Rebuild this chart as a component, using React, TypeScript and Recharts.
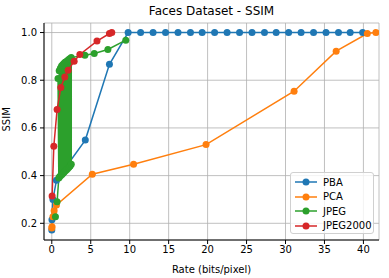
import { LineChart, Line, XAxis, YAxis, CartesianGrid } from "recharts";

const xTicks = [0, 5, 10, 15, 20, 25, 30, 35, 40];
const yTicks = [0.2, 0.4, 0.6, 0.8, 1.0];

// PBA
const pbaRate = [0.0, 0.02, 0.15, 0.6, 4.3, 7.4, 9.8, 11.4, 13.0, 14.6, 16.2, 17.8, 19.3, 20.9, 22.5, 24.1, 25.7, 27.3, 28.8, 30.4, 32.0, 33.6, 35.2, 36.8, 38.3, 39.9];
const pbaSsim = [0.172, 0.215, 0.3, 0.381, 0.549, 0.867, 1.0, 1.0, 1.0, 1.0, 1.0, 1.0, 1.0, 1.0, 1.0, 1.0, 1.0, 1.0, 1.0, 1.0, 1.0, 1.0, 1.0, 1.0, 1.0, 1.0];

// PCA
const pcaRate = [0.0, 0.03, 0.15, 0.3, 0.6, 5.2, 10.5, 19.8, 31.1, 36.5, 40.5, 41.6];
const pcaSsim = [0.18, 0.186, 0.228, 0.253, 0.277, 0.406, 0.448, 0.53, 0.754, 0.922, 0.996, 1.0];

// JPEG (unsorted sweep, zigzags)
const jpegRate = [0.47, 0.68, 0.9, 0.8, 1.0, 0.95, 1.15, 1.1, 1.3, 1.25, 1.45, 1.4, 1.6, 1.55, 1.75, 1.7, 1.9, 1.85, 2.05, 2.0, 2.2, 2.15, 2.35, 2.3, 2.5, 2.5, 4.25, 5.45, 7.2, 9.5];
const jpegSsim = [0.228, 0.29, 0.39, 0.807, 0.395, 0.84, 0.4, 0.85, 0.405, 0.86, 0.41, 0.865, 0.415, 0.87, 0.42, 0.875, 0.425, 0.878, 0.43, 0.882, 0.435, 0.886, 0.44, 0.89, 0.448, 0.895, 0.905, 0.912, 0.929, 0.968];

// JPEG2000
const j2kRate = [0.04, 0.26, 0.68, 1.16, 1.67, 2.1, 2.87, 3.6, 5.8, 7.4, 7.7];
const j2kSsim = [0.314, 0.523, 0.677, 0.77, 0.814, 0.842, 0.88, 0.908, 0.964, 0.996, 1.0];

const zip = (xs: number[], ys: number[]) => xs.map((x, i) => ({ x, y: ys[i] }));

const series = [
  { name: "PBA", color: "#1f77b4", data: zip(pbaRate, pbaSsim) },
  { name: "PCA", color: "#ff7f0e", data: zip(pcaRate, pcaSsim) },
  { name: "JPEG", color: "#2ca02c", data: zip(jpegRate, jpegSsim) },
  { name: "JPEG2000", color: "#d62728", data: zip(j2kRate, j2kSsim) },
];

const font = "DejaVu Sans, sans-serif";

function LegendBox() {
  return (
    <div
      style={{
        position: "absolute",
        left: 290,
        top: 172,
        width: 84,
        height: 62,
        boxSizing: "border-box",
        border: "1px solid #d0d0d0",
        borderRadius: 3,
        background: "rgba(255,255,255,0.8)",
        padding: "2px 0 0 3px",
        fontFamily: font,
        fontSize: 10,
        color: "#000",
      }}
    >
      {series.map((s) => (
        <div key={s.name} style={{ display: "flex", alignItems: "center", height: 14.5 }}>
          <svg width={24} height={10} style={{ marginRight: 5 }}>
            <line x1={1} y1={5} x2={23} y2={5} stroke={s.color} strokeWidth={1.5} />
            <circle cx={12} cy={5} r={3.5} fill={s.color} />
          </svg>
          <span>{s.name}</span>
        </div>
      ))}
    </div>
  );
}

export default function App() {
  return (
    <div style={{ position: "absolute", left: 0, top: 0, width: 389, height: 278, background: "#fff" }}>
      <div
        style={{
          position: "absolute",
          left: 44,
          width: 335,
          top: 4,
          textAlign: "center",
          fontFamily: font,
          fontSize: 12,
        }}
      >
        Faces Dataset - SSIM
      </div>
      <LineChart width={389} height={278} margin={{ top: 23, right: 10, left: 0, bottom: 0 }}>
        <CartesianGrid stroke="#b0b0b0" strokeWidth={0.8} />
        <XAxis
          dataKey="x"
          type="number"
          domain={[-1, 42]}
          ticks={xTicks}
          allowDataOverflow
          height={38}
          tick={{ fontSize: 10, fill: "#000", fontFamily: font }}
          tickLine={{ stroke: "#000" }}
          axisLine={{ stroke: "#000" }}
          tickSize={4}
          tickMargin={2}
          label={{ value: "Rate (bits/pixel)", position: "insideBottom", offset: 5, fontSize: 10, fill: "#000", fontFamily: font }}
        />
        <XAxis xAxisId="top" orientation="top" type="number" domain={[-1, 42]} height={0} tick={false} tickLine={false} axisLine={{ stroke: "#000" }} />
        <YAxis
          type="number"
          domain={[0.13, 1.04]}
          ticks={yTicks}
          allowDataOverflow
          width={44}
          tickFormatter={(v: number) => v.toFixed(1)}
          tick={{ fontSize: 10, fill: "#000", fontFamily: font }}
          tickLine={{ stroke: "#000" }}
          axisLine={{ stroke: "#000" }}
          tickSize={4}
          tickMargin={3}
          label={{ value: "SSIM", angle: -90, position: "insideLeft", offset: 6, fontSize: 10, fill: "#000", fontFamily: font }}
        />
        <YAxis yAxisId="right" orientation="right" width={0} tick={false} tickLine={false} axisLine={{ stroke: "#000" }} />
        {series.map((s) => (
          <Line
            key={s.name}
            data={s.data}
            dataKey="y"
            name={s.name}
            stroke={s.color}
            strokeWidth={1.5}
            dot={{ r: 3.5, fill: s.color, stroke: s.color, strokeWidth: 0 }}
            activeDot={false}
            isAnimationActive={false}
          />
        ))}
      </LineChart>
      <LegendBox />
    </div>
  );
}
